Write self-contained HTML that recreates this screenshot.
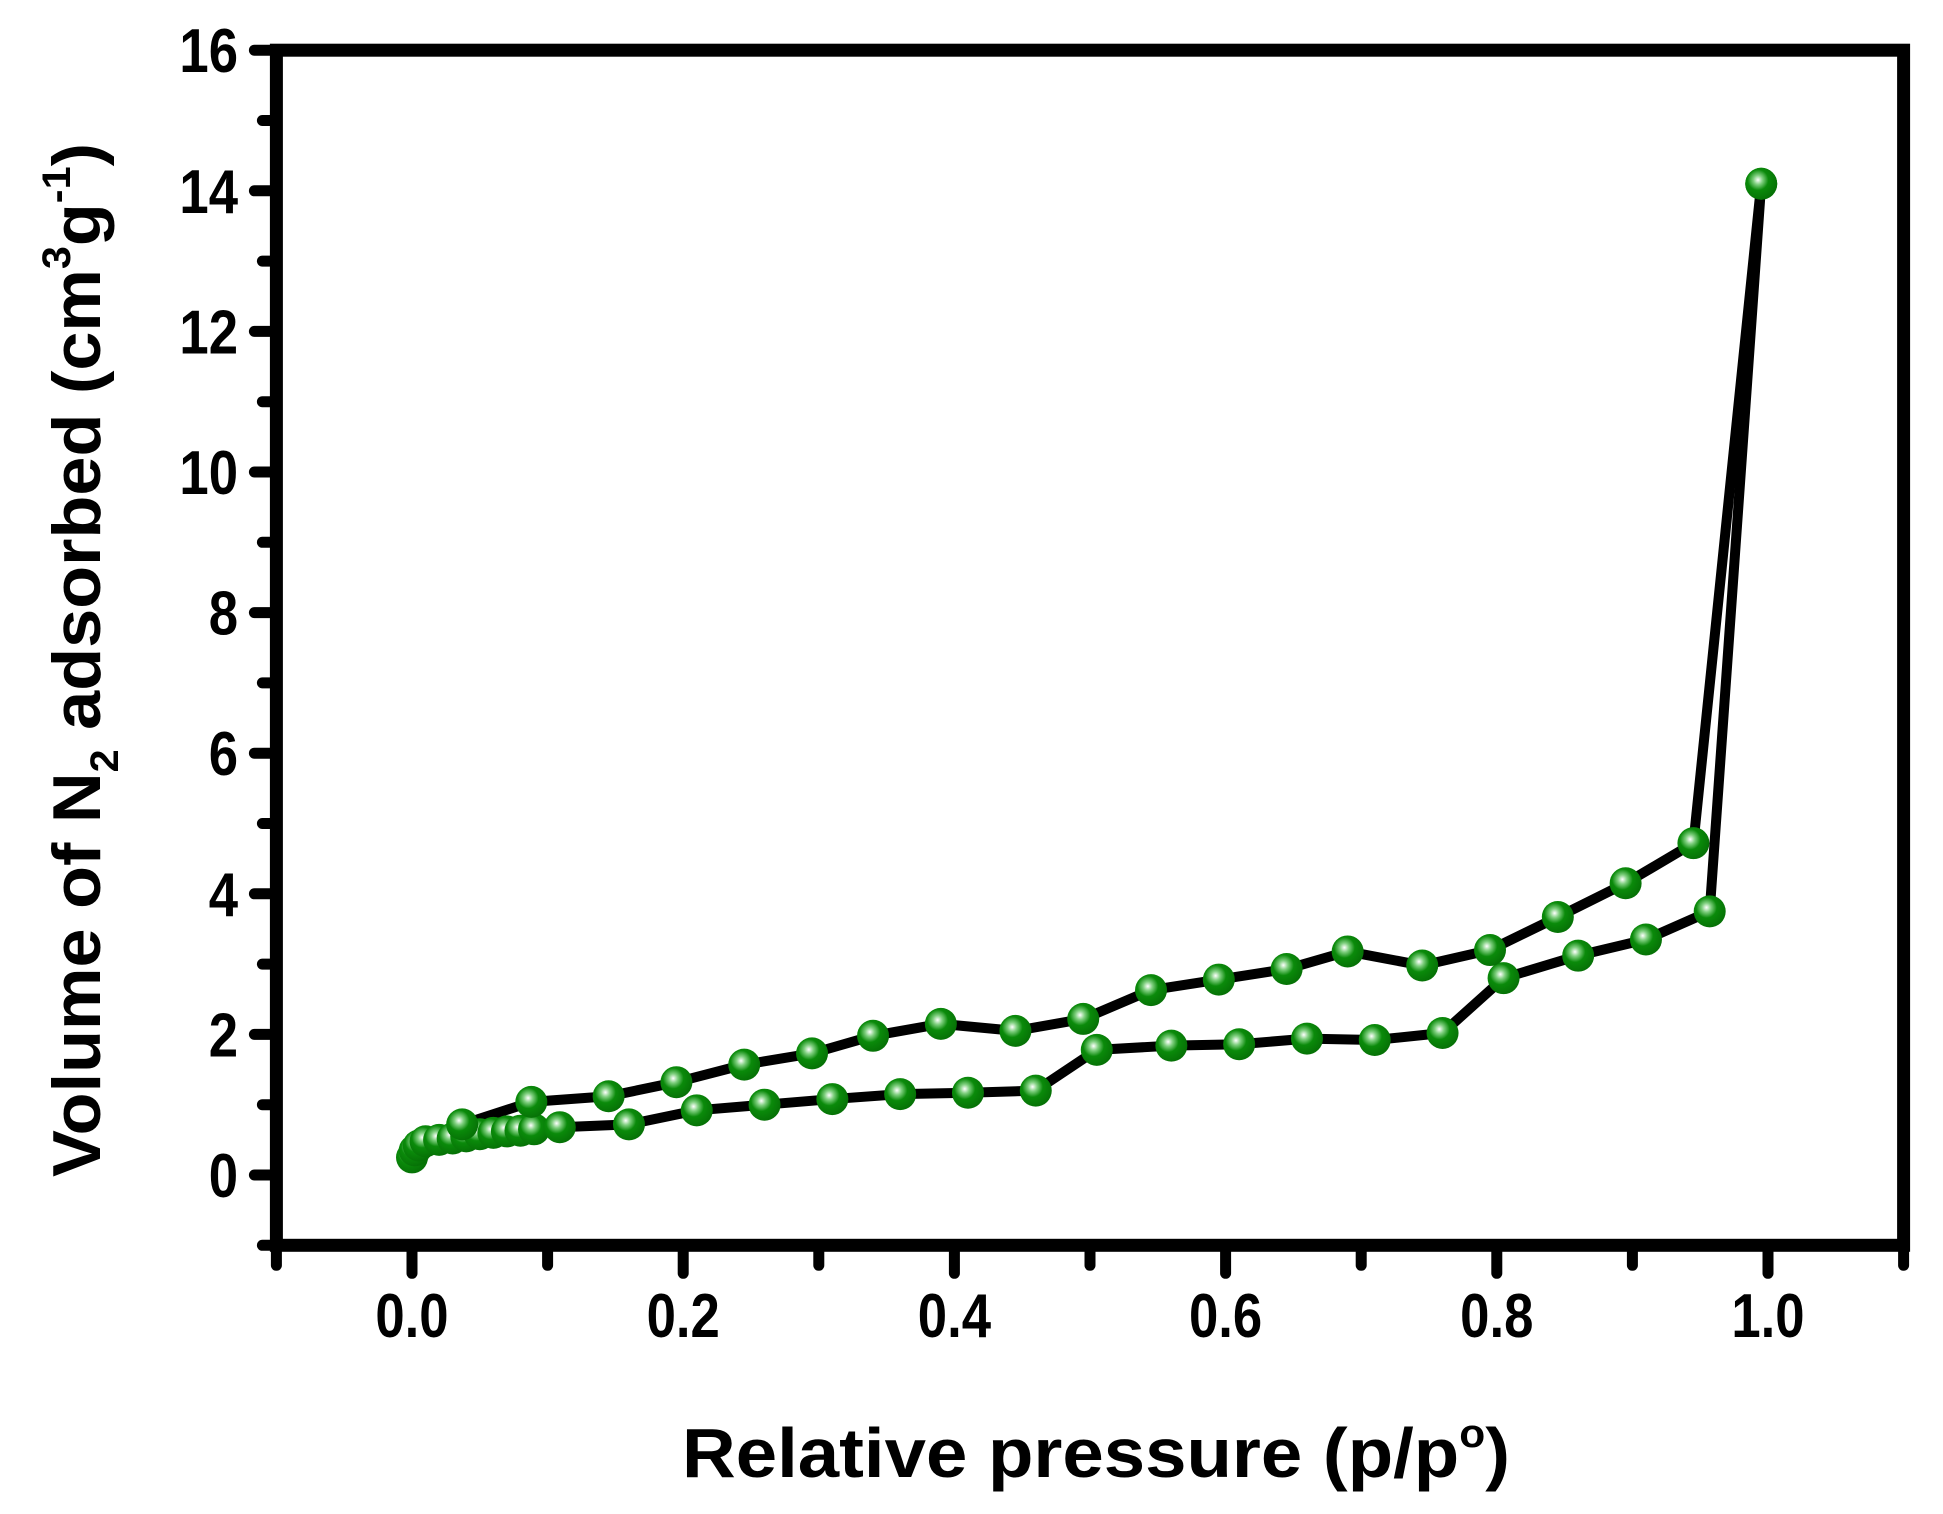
<!DOCTYPE html>
<html><head><meta charset="utf-8"><style>
html,body{margin:0;padding:0;background:#fff;}
svg{display:block;font-family:"Liberation Sans",Arial,sans-serif;font-weight:bold;}
</style></head><body>
<svg id="chart" width="1943" height="1514" viewBox="0 0 1943 1514" xmlns="http://www.w3.org/2000/svg">
<defs>
<radialGradient id="ball" cx="0.4" cy="0.38" r="0.65">
<stop offset="0" stop-color="#ffffff"/>
<stop offset="0.22" stop-color="#7fcf7f"/>
<stop offset="0.5" stop-color="#0a8a0a"/>
<stop offset="1" stop-color="#067006"/>
</radialGradient>
</defs>
<g id="series"></g>
<g id="axes"></g>
<text x="682" y="1477" font-size="70" textLength="828" lengthAdjust="spacingAndGlyphs">Relative pressure (p/p<tspan dy="-30" font-size="40">o</tspan><tspan dy="30">)</tspan></text>
<text transform="translate(100,1177) rotate(-90)" x="0" y="0" font-size="68" textLength="1034" lengthAdjust="spacingAndGlyphs">Volume of N<tspan dy="18" font-size="40">2</tspan><tspan dy="-18"> adsorbed (cm</tspan><tspan dy="-30" font-size="40">3</tspan><tspan dy="30">g</tspan><tspan dy="-30" font-size="40">-1</tspan><tspan dy="30">)</tspan></text>
</svg>
<script>
const adsX=[0.0,0.002,0.005,0.01,0.02,0.03,0.04,0.05,0.06,0.07,0.08,0.09,0.109,0.16,0.21,0.26,0.31,0.36,0.41,0.46,0.505,0.56,0.61,0.66,0.71,0.76,0.805,0.86,0.91,0.957,0.995];
const adsY=[0.25,0.35,0.42,0.48,0.5,0.52,0.55,0.58,0.6,0.62,0.63,0.65,0.68,0.72,0.92,1.0,1.08,1.15,1.17,1.2,1.78,1.84,1.86,1.94,1.92,2.02,2.8,3.12,3.35,3.75,14.1];
const desX=[0.995,0.945,0.895,0.845,0.795,0.745,0.69,0.645,0.595,0.545,0.495,0.445,0.39,0.34,0.295,0.245,0.195,0.145,0.088,0.037];
const desY=[14.1,4.72,4.15,3.67,3.2,2.98,3.18,2.93,2.78,2.63,2.22,2.05,2.15,1.98,1.73,1.57,1.32,1.12,1.04,0.72];
const xTicks=[0.0,0.2,0.4,0.6,0.8,1.0];
const xTickLabels=["0.0","0.2","0.4","0.6","0.8","1.0"];
const yTicks=[0,2,4,6,8,10,12,14,16];
const yTickLabels=["0","2","4","6","8","10","12","14","16"];

const NS="http://www.w3.org/2000/svg";
const X=v=>412+(v-0)*1356;
const Y=v=>1175-v*70.3;
function mk(tag,attrs,parent){const e=document.createElementNS(NS,tag);for(const k in attrs)e.setAttribute(k,attrs[k]);parent.appendChild(e);return e;}
const axes=document.getElementById('axes');
const series=document.getElementById('series');
const L=X(-0.1),R=X(1.1),T=Y(16),B=Y(-1);
const fr=mk('rect',{x:L,y:T,width:R-L,height:B-T,fill:'none',stroke:'#000','stroke-width':13},axes);


for(let i=-1;i<=11;i++){
  const v=i/10;const major=(i%2===0);
  const t=mk('line',{x1:X(v),x2:X(v),y1:B,y2:B+(major?28:20),stroke:'#000','stroke-width':11,'stroke-linecap':'round'},axes);
  
  
}
xTicks.forEach((v,i)=>{
  const t=mk('text',{transform:'translate('+X(v)+',1337) scale(0.85,1)','font-size':62,'text-anchor':'middle'},axes);
  t.textContent=xTickLabels[i];
  
  
});
for(let v=-1;v<=16;v++){
  const major=(v%2===0);
  const t=mk('line',{x1:L,x2:L-(major?22:14),y1:Y(v),y2:Y(v),stroke:'#000','stroke-width':11,'stroke-linecap':'round'},axes);
  
  
}
yTicks.forEach((v,i)=>{
  const t=mk('text',{transform:'translate(238,'+(Y(v)+22)+') scale(0.85,1)','font-size':62,'text-anchor':'end'},axes);
  t.textContent=yTickLabels[i];
  
  
});
function drawSeries(xs,ys,name){
  const pts=xs.map((x,i)=>X(x)+','+Y(ys[i])).join(' ');
  const pl=mk('polyline',{points:pts,fill:'none',stroke:'#000','stroke-width':10,'stroke-linejoin':'round'},series);
  
  
}
function drawMarkers(xs,ys,name){
  xs.forEach((x,i)=>{
    const c=mk('circle',{cx:X(x),cy:Y(ys[i]),r:16,fill:'url(#ball)'},series);
    
    
  });
}
drawSeries(adsX,adsY,'adsorption');
drawSeries(desX,desY,'desorption');
drawMarkers(adsX,adsY,'adsorption');
drawMarkers(desX,desY,'desorption');
</script>
</body></html>
